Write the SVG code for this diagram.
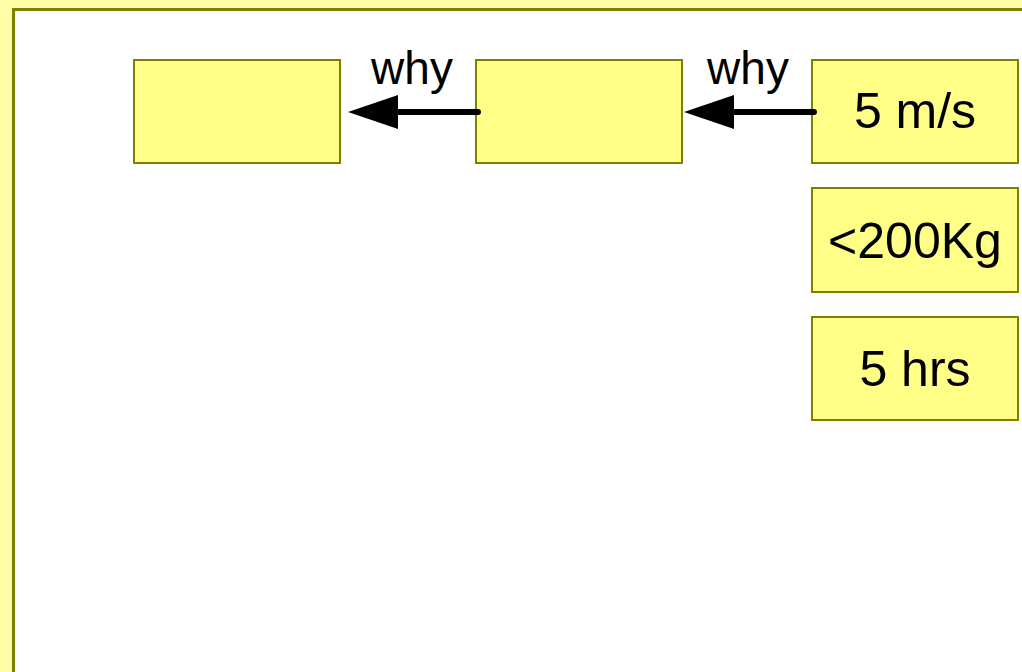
<svg xmlns="http://www.w3.org/2000/svg" width="1022" height="672" viewBox="0 0 1022 672">
<defs>
<style>
.node{fill:#ffff88;stroke:#808000;stroke-width:2}
.t{font-family:"Liberation Sans",Arial,sans-serif;font-size:50px;fill:#000;text-anchor:middle}
.lbl{font-family:"Liberation Sans",Arial,sans-serif;font-size:46px;fill:#000;text-anchor:middle}
.conn{stroke:#000;stroke-width:6;stroke-linecap:round;fill:none}
.head{fill:#000}
</style>
</defs>
<rect x="0" y="0" width="1022" height="672" fill="#ffffa8"/>
<rect x="13.5" y="9.5" width="1100" height="700" fill="#fff" stroke="#808000" stroke-width="3"/>
<g id="node1"><rect class="node" x="134" y="60" width="206" height="103"/></g>
<g id="node2"><rect class="node" x="476" y="60" width="206" height="103"/></g>
<g id="node3"><rect class="node" x="812" y="60" width="206" height="103"/><text class="t" x="915" y="128">5 m/s</text></g>
<g id="node4"><rect class="node" x="812" y="188" width="206" height="104"/><text class="t" x="915" y="258">&lt;200Kg</text></g>
<g id="node5"><rect class="node" x="812" y="317" width="206" height="103"/><text class="t" x="915" y="386">5 hrs</text></g>
<g id="connectors">
<line class="conn" x1="478" y1="112" x2="396" y2="112"/>
<polygon class="head" points="348,112 398,95 398,129"/>
<line class="conn" x1="814" y1="112" x2="732" y2="112"/>
<polygon class="head" points="684,112 734,95 734,129"/>
<text class="lbl" x="412" y="84">why</text>
<text class="lbl" x="748" y="84">why</text>
</g>
</svg>
